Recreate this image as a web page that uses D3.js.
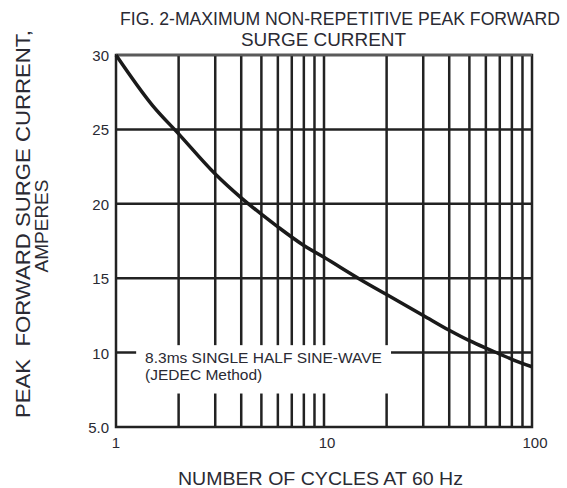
<!DOCTYPE html>
<html>
<head>
<meta charset="utf-8">
<script src="https://cdn.jsdelivr.net/npm/d3@7"></script>
<style>
  body { margin: 0; background: #fff; }
  text { font-family: "Liberation Sans", Arial, sans-serif; fill: #2a2a33; }
</style>
</head>
<body>
<div id="chart"></div>
<script>
// values
const cycles = [1, 1.5, 2, 3, 4, 5, 6, 8, 10, 15, 20, 30, 40, 50, 60, 70, 80, 100];
const amps = [30, 26.6, 24.7, 22.0, 20.4, 19.3, 18.45, 17.2, 16.4, 14.9, 13.9, 12.5, 11.5, 10.8, 10.3, 9.9, 9.55, 9.05];
const yTicks = [5, 10, 15, 20, 25, 30];
const xGrid = [2, 3, 4, 5, 6, 7, 8, 9, 10, 20, 30, 40, 50, 60, 70, 80, 90];
const xLabels = [1, 10, 100];
const noteLines = ["8.3ms SINGLE HALF SINE-WAVE", "(JEDEC Method)"];

const W = 567, H = 488;
const svg = d3.select("#chart").append("svg")
    .attr("width", W)
    .attr("height", H);

const x = d3.scaleLog().domain([1, 100]).range([116, 532]);
const y = d3.scaleLinear().domain([5, 30]).range([427, 55]);

const ink = "#222";

// vertical grid
svg.append("g").selectAll("line")
    .data(xGrid)
    .enter().append("line")
    .attr("x1", d => x(d)).attr("x2", d => x(d))
    .attr("y1", y(30)).attr("y2", y(5))
    .attr("stroke", ink).attr("stroke-width", 2.5);

// horizontal grid
svg.append("g").selectAll("line")
    .data(yTicks.filter(d => d > 5 && d < 30))
    .enter().append("line")
    .attr("x1", x(1)).attr("x2", x(100))
    .attr("y1", d => y(d)).attr("y2", d => y(d))
    .attr("stroke", ink).attr("stroke-width", 2.5);

// blank box behind the note
svg.append("rect")
    .attr("x", x(1.25)).attr("y", y(10.5))
    .attr("width", x(21) - x(1.25))
    .attr("height", y(7.25) - y(10.5))
    .attr("fill", "#fff");

// frame
svg.append("rect")
    .attr("x", x(1)).attr("y", y(30))
    .attr("width", x(100) - x(1))
    .attr("height", y(5) - y(30))
    .attr("fill", "none")
    .attr("stroke", ink).attr("stroke-width", 2.5);
svg.append("line")
    .attr("x1", x(1)).attr("x2", x(100))
    .attr("y1", y(30)).attr("y2", y(30))
    .attr("stroke", "#5a5a5a").attr("stroke-width", 2.5);

// note
svg.append("g").selectAll("text")
    .data(noteLines)
    .enter().append("text")
    .attr("x", x(1.38))
    .attr("y", (d, i) => y(10) + 10 + i * 17)
    .attr("font-size", 15.5)
    .text(d => d);

// curve
const line = d3.line()
    .x((d, i) => x(cycles[i]))
    .y(d => y(d))
    .curve(d3.curveMonotoneX);
svg.append("path")
    .attr("d", line(amps))
    .attr("fill", "none")
    .attr("stroke", "#1a1a1a")
    .attr("stroke-width", 3.5);

// y tick labels
svg.append("g").selectAll("text")
    .data(yTicks)
    .enter().append("text")
    .attr("x", 109)
    .attr("y", d => y(d) + 6)
    .attr("text-anchor", "end")
    .attr("font-size", 15)
    .text(d => d === 5 ? "5.0" : d);

// x tick labels
svg.append("g").selectAll("text")
    .data(xLabels)
    .enter().append("text")
    .attr("x", d => x(d) + (d === 1 ? 0 : 3))
    .attr("y", 448)
    .attr("text-anchor", "middle")
    .attr("font-size", 15)
    .text(d => d);

// titles
svg.append("text")
    .attr("x", 120).attr("y", 25)
    .attr("font-size", 17.5)
    .attr("textLength", 440)
    .attr("lengthAdjust", "spacingAndGlyphs")
    .text("FIG. 2-MAXIMUM NON-REPETITIVE PEAK FORWARD");
svg.append("text")
    .attr("x", 241).attr("y", 46)
    .attr("font-size", 18)
    .attr("textLength", 165)
    .attr("lengthAdjust", "spacingAndGlyphs")
    .text("SURGE CURRENT");

svg.append("text")
    .attr("x", 178).attr("y", 485)
    .attr("font-size", 18)
    .attr("textLength", 285)
    .attr("lengthAdjust", "spacingAndGlyphs")
    .text("NUMBER OF CYCLES AT 60 Hz");

svg.append("text")
    .attr("transform", "translate(30,418) rotate(-90)")
    .attr("font-size", 21)
    .attr("textLength", 388)
    .attr("lengthAdjust", "spacingAndGlyphs")
    .attr("xml:space", "preserve")
    .text("PEAK  FORWARD SURGE CURRENT,");
svg.append("text")
    .attr("transform", "translate(48,226) rotate(-90)")
    .attr("text-anchor", "middle")
    .attr("font-size", 19)
    .text("AMPERES");
</script>
</body>
</html>
